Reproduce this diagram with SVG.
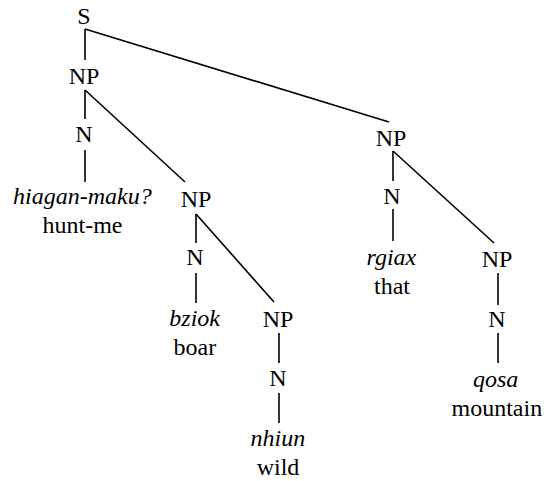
<svg xmlns="http://www.w3.org/2000/svg" width="548" height="481" viewBox="0 0 548 481">
<rect width="548" height="481" fill="#fff"/>
<g id="edges" stroke="#000" stroke-width="1.6" fill="none">
<line x1="85" y1="29" x2="85" y2="60"/>
<line x1="85" y1="29" x2="389" y2="122"/>
<line x1="85" y1="90" x2="85" y2="119"/>
<line x1="85" y1="90" x2="185" y2="182"/>
<line x1="85" y1="150" x2="85" y2="182"/>
<line x1="196" y1="214" x2="196" y2="243"/>
<line x1="196" y1="214" x2="274" y2="302"/>
<line x1="196" y1="273" x2="196" y2="303"/>
<line x1="279" y1="333" x2="279" y2="363"/>
<line x1="279" y1="393" x2="279" y2="423"/>
<line x1="393" y1="151" x2="393" y2="181"/>
<line x1="393" y1="151" x2="494" y2="243"/>
<line x1="393" y1="209" x2="393" y2="241"/>
<line x1="498" y1="273" x2="498" y2="305"/>
<line x1="498" y1="333" x2="498" y2="363"/>
</g>
<g id="S"><text x="77.3" y="24" font-size="24" font-family="Liberation Serif">S</text></g>
<g id="NP1"><text x="68.7" y="84" font-size="24" font-family="Liberation Serif">NP</text></g>
<g id="N1"><text x="75.3" y="142" font-size="24" font-family="Liberation Serif">N</text></g>
<g id="leaf1"><text x="13" y="204" font-size="24" font-family="Liberation Serif" font-style="italic">hiagan-maku?</text><text x="42.5" y="233" font-size="24" font-family="Liberation Serif">hunt-me</text></g>
<g id="NP2"><text x="180.7" y="207" font-size="24" font-family="Liberation Serif">NP</text></g>
<g id="N2"><text x="186.3" y="265" font-size="24" font-family="Liberation Serif">N</text></g>
<g id="leaf2"><text x="169.3" y="326" font-size="24" font-family="Liberation Serif" font-style="italic">bziok</text><text x="173.5" y="355" font-size="24" font-family="Liberation Serif">boar</text></g>
<g id="NP3"><text x="262.7" y="327" font-size="24" font-family="Liberation Serif">NP</text></g>
<g id="N3"><text x="269.3" y="386" font-size="24" font-family="Liberation Serif">N</text></g>
<g id="leaf3"><text x="250.5" y="446" font-size="24" font-family="Liberation Serif" font-style="italic">nhiun</text><text x="256.7" y="475" font-size="24" font-family="Liberation Serif">wild</text></g>
<g id="NP4"><text x="375.7" y="146" font-size="24" font-family="Liberation Serif">NP</text></g>
<g id="N4"><text x="383.3" y="204" font-size="24" font-family="Liberation Serif">N</text></g>
<g id="leaf4"><text x="366.5" y="265" font-size="24" font-family="Liberation Serif" font-style="italic">rgiax</text><text x="374" y="294" font-size="24" font-family="Liberation Serif">that</text></g>
<g id="NP5"><text x="481.7" y="267" font-size="24" font-family="Liberation Serif">NP</text></g>
<g id="N5"><text x="488.3" y="327" font-size="24" font-family="Liberation Serif">N</text></g>
<g id="leaf5"><text x="473" y="387" font-size="24" font-family="Liberation Serif" font-style="italic">qosa</text><text x="451.5" y="416" font-size="24" font-family="Liberation Serif">mountain</text></g>
</svg>
